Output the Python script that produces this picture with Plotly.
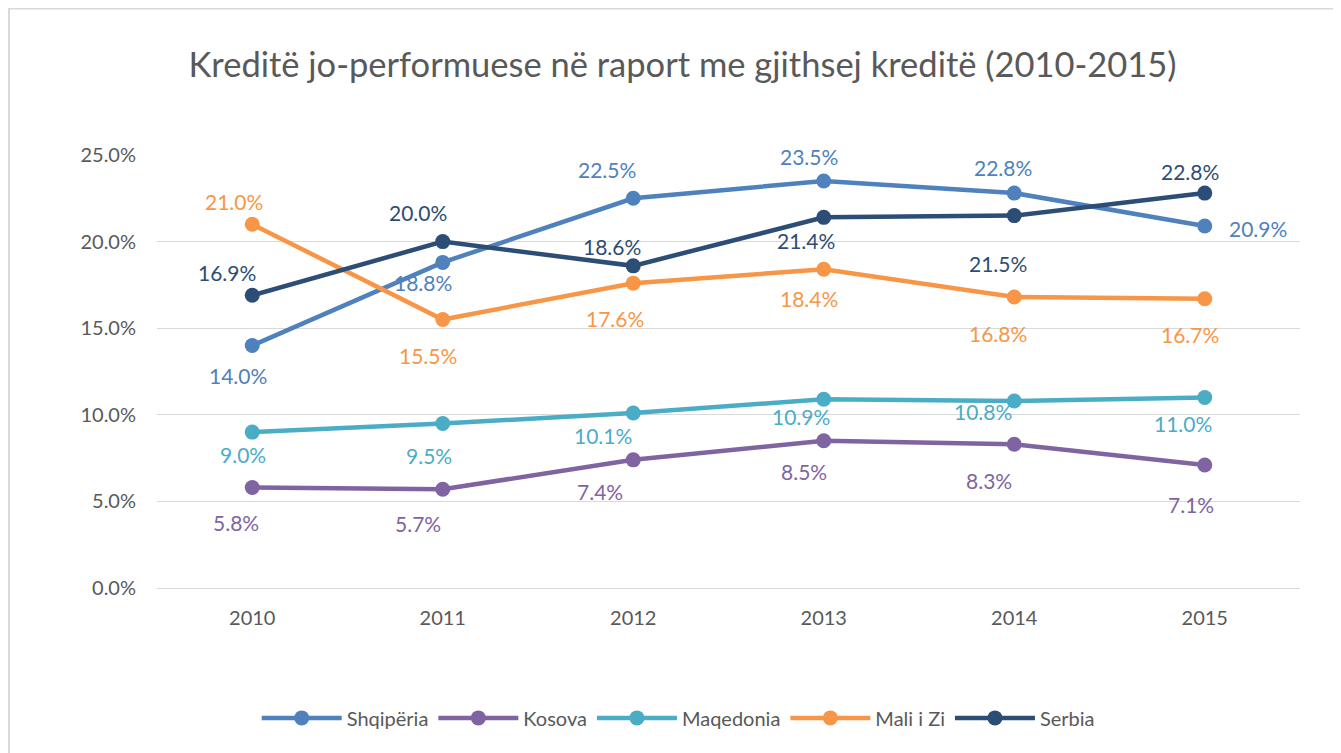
import plotly.graph_objects as go

years = ["2010", "2011", "2012", "2013", "2014", "2015"]
shqiperia = [14.0, 18.8, 22.5, 23.5, 22.8, 20.9]
kosova = [5.8, 5.7, 7.4, 8.5, 8.3, 7.1]
maqedonia = [9.0, 9.5, 10.1, 10.9, 10.8, 11.0]
mali_i_zi = [21.0, 15.5, 17.6, 18.4, 16.8, 16.7]
serbia = [16.9, 20.0, 18.6, 21.4, 21.5, 22.8]

# label offsets from each point, in screen pixels (dx right, dy down)
shqiperia_dx = [-14, -20, -26, -15, -11, 53]
shqiperia_dy = [30, 20, -29, -24, -26, 2]
kosova_dx = [-16, -25, -33, -20, -25, -14]
kosova_dy = [35, 34, 32, 31, 36, 39]
maqedonia_dx = [-9, -14, -30, -23, -31, -22]
maqedonia_dy = [22, 32, 22, 17, 11, 26]
mali_dx = [-18, -15, -18, -15, -16, -15]
mali_dy = [-23, 36, 35, 29, 36, 36]
serbia_dx = [-25, -25, -21, -18, -16, -15]
serbia_dy = [-23, -29, -19, 23, 48, -22]

series = [
    ("Shqipëria", shqiperia, "#4F81BD", shqiperia_dx, shqiperia_dy),
    ("Kosova", kosova, "#8064A2", kosova_dx, kosova_dy),
    ("Maqedonia", maqedonia, "#4BACC6", maqedonia_dx, maqedonia_dy),
    ("Mali i Zi", mali_i_zi, "#F79646", mali_dx, mali_dy),
    ("Serbia", serbia, "#2C4D75", serbia_dx, serbia_dy),
]

FONT = "Lato, Carlito, Calibri, sans-serif"

fig = go.Figure()
annotations = []
for name, vals, color, dxs, dys in series:
    ys = [v / 100 for v in vals]
    fig.add_trace(go.Scatter(
        x=years, y=ys, name=name,
        mode="lines+markers",
        line=dict(color=color, width=4.5),
        marker=dict(color=color, size=15),
        cliponaxis=False,
    ))
    for idx, (v, dx, dy) in enumerate(zip(vals, dxs, dys)):
        annotations.append(dict(
            x=idx, y=v / 100, xref="x", yref="y", text=f"{v:.1f}%",
            showarrow=False, xanchor="center", yanchor="middle",
            xshift=dx, yshift=-dy,
            font=dict(color=color, size=21, family=FONT),
        ))

fig.update_layout(
    width=1341, height=753,
    paper_bgcolor="white", plot_bgcolor="white",
    margin=dict(l=149, r=49, t=147, b=173),
    font=dict(family=FONT, color="#595959"),
    title=dict(text="Kreditë jo-performuese në raport me gjithsej kreditë (2010-2015)",
               x=0.503, xanchor="center", y=0.924, yanchor="middle",
               font=dict(size=34.5, color="#595959", family=FONT)),
    xaxis=dict(type="category", range=[-0.5, 5.5], showgrid=False,
               showline=True, linecolor="#D9D9D9", linewidth=1,
               ticks="", ticklabelstandoff=12, tickfont=dict(size=20, color="#595959")),
    yaxis=dict(range=[0, 0.25], dtick=0.05, tickformat=".1%",
               gridcolor="#D9D9D9", gridwidth=1, zeroline=False,
               ticks="", ticklen=0, ticklabelstandoff=20,
               tickfont=dict(size=20, color="#595959")),
    legend=dict(orientation="h", x=0.456, xanchor="center", y=-0.3, yanchor="middle",
                font=dict(size=20, color="#595959"), itemwidth=80),
    annotations=annotations,
    showlegend=True,
)

fig.add_shape(type="rect", xref="paper", yref="paper",
              x0=(9 - 157) / 1143, x1=(1339 - 157) / 1143,
              y0=(588 - 770) / 433, y1=(588 - 8.5) / 433,
              line=dict(color="#D9D9D9", width=2), fillcolor="rgba(0,0,0,0)", layer="below")

fig.write_html("out.html")
